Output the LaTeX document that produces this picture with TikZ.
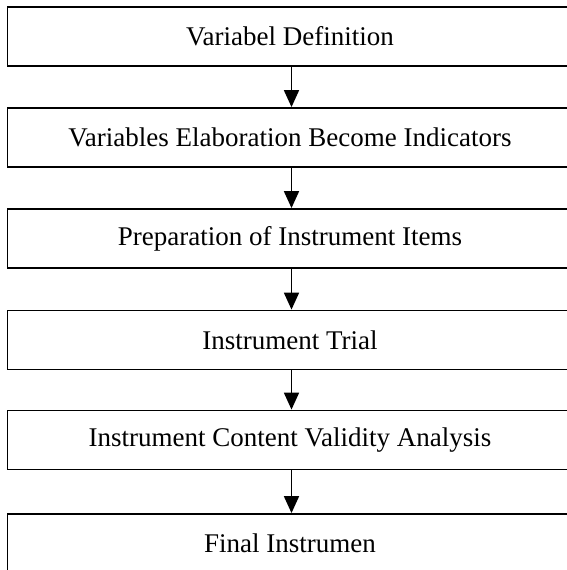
\documentclass[tikz,border=0pt]{standalone}
\usepackage{fontspec}
\setmainfont{Liberation Serif}
\usetikzlibrary{arrows.meta}
\begin{document}
\begin{tikzpicture}[x=1pt,y=1pt,
  stagebox/.style={draw=black, line width=1.8pt, rectangle, minimum width=565pt,
    minimum height=59pt, inner sep=0pt, font=\fontsize{27}{31}\selectfont},
  flowarrow/.style={draw=black, line width=1.8pt, -{Triangle[width=15pt,length=17pt]}}]
\useasboundingbox (0,0) rectangle (567,570);
\clip (0,0) rectangle (567,570);
\node[stagebox] (s1) at (290,533.5) {Variabel Definition};
\node[stagebox] (s2) at (290,432.5) {Variables Elaboration Become Indicators};
\node[stagebox] (s3) at (290,331.5) {Preparation of Instrument Items};
\node[stagebox] (s4) at (290,230) {Instrument Trial};
\node[stagebox] (s5) at (290,130) {Instrument Content Validity Analysis};
\node[stagebox] (s6) at (290,26.5) {Final Instrumen};
\draw[flowarrow] (s1.south -| 291.5,0) -- (s2.north -| 291.5,0);
\draw[flowarrow] (s2.south -| 291.5,0) -- (s3.north -| 291.5,0);
\draw[flowarrow] (s3.south -| 291.5,0) -- (s4.north -| 291.5,0);
\draw[flowarrow] (s4.south -| 291.5,0) -- (s5.north -| 291.5,0);
\draw[flowarrow] (s5.south -| 291.5,0) -- (s6.north -| 291.5,0);
\end{tikzpicture}
\end{document}
